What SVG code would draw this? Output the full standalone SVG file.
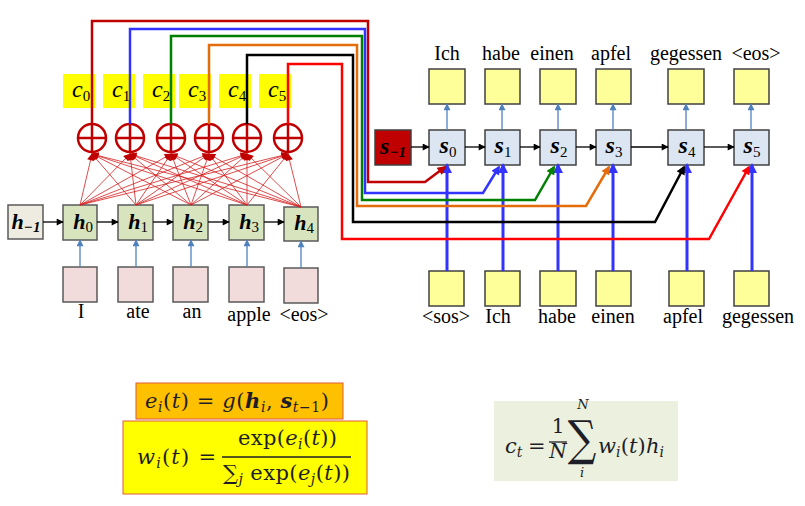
<svg xmlns="http://www.w3.org/2000/svg" width="805" height="506" viewBox="0 0 805 506">
<style>
.lbl{font-family:"Liberation Serif",serif;font-size:20px;fill:#000}
.m{font-family:"DejaVu Serif","Liberation Serif",serif;font-style:italic;fill:#1e1e28}
.up{font-style:normal}
.b{font-weight:bold}
.sub{font-size:14px}
.hbox{fill:#d7e4bd;stroke:#595959;stroke-width:1.5}
.pbox{fill:#f2dcdb;stroke:#595959;stroke-width:1.5}
.sbox{fill:#dce6f2;stroke:#404040;stroke-width:1.5}
.ybox{fill:#ffff99;stroke:#404040;stroke-width:1.5}
.cbox{fill:#ffff00}
.cl{font-family:"Liberation Serif",serif;font-style:italic;font-size:24px;fill:#000}
.cl tspan{font-style:normal;font-size:15px}
.nl{font-family:"Liberation Serif",serif;font-style:italic;font-weight:bold;fill:#000}
.nl tspan{font-size:15px}
.op circle,.op line{fill:none;stroke:#c00000;stroke-width:2.5}
.fan line{stroke:#d42020;stroke-width:0.8;marker-end:url(#mfan)}
.blk{stroke:#000;stroke-width:1.3;marker-end:url(#mblk)}
.lb{stroke:#4f81bd;stroke-width:1.3;marker-end:url(#mlb)}
.tb{stroke:#3333ff;stroke-width:3;marker-end:url(#mtb)}
.att{fill:none;stroke-width:2.5;stroke-linejoin:miter}
</style>
<defs>
<marker id="mblk" viewBox="0 0 10 10" refX="9" refY="5" markerWidth="8" markerHeight="7" markerUnits="userSpaceOnUse" orient="auto"><path d="M0,0 L10,5 L0,10 z" fill="#000"/></marker>
<marker id="mlb" viewBox="0 0 10 10" refX="9" refY="5" markerWidth="8" markerHeight="7" markerUnits="userSpaceOnUse" orient="auto"><path d="M0,0 L10,5 L0,10 z" fill="#4f81bd"/></marker>
<marker id="mtb" viewBox="0 0 10 10" refX="8" refY="5" markerWidth="10" markerHeight="10" markerUnits="userSpaceOnUse" orient="auto"><path d="M0,0 L10,5 L0,10 z" fill="#3333ff"/></marker>
<marker id="mfan" viewBox="0 0 10 10" refX="9" refY="5" markerWidth="8" markerHeight="7" markerUnits="userSpaceOnUse" orient="auto"><path d="M0,0 L10,5 L0,10 z" fill="#c00000"/></marker>
<marker id="mdr" viewBox="0 0 10 10" refX="8" refY="5" markerWidth="11" markerHeight="9" markerUnits="userSpaceOnUse" orient="auto"><path d="M0,0 L10,5 L0,10 z" fill="#c00000"/></marker>
<marker id="mbl" viewBox="0 0 10 10" refX="8" refY="5" markerWidth="11" markerHeight="9" markerUnits="userSpaceOnUse" orient="auto"><path d="M0,0 L10,5 L0,10 z" fill="#3333ff"/></marker>
<marker id="mgr" viewBox="0 0 10 10" refX="8" refY="5" markerWidth="11" markerHeight="9" markerUnits="userSpaceOnUse" orient="auto"><path d="M0,0 L10,5 L0,10 z" fill="#008000"/></marker>
<marker id="mor" viewBox="0 0 10 10" refX="8" refY="5" markerWidth="11" markerHeight="9" markerUnits="userSpaceOnUse" orient="auto"><path d="M0,0 L10,5 L0,10 z" fill="#e46c0a"/></marker>
<marker id="mbk" viewBox="0 0 10 10" refX="8" refY="5" markerWidth="11" markerHeight="9" markerUnits="userSpaceOnUse" orient="auto"><path d="M0,0 L10,5 L0,10 z" fill="#000"/></marker>
<marker id="mrd" viewBox="0 0 10 10" refX="8" refY="5" markerWidth="11" markerHeight="9" markerUnits="userSpaceOnUse" orient="auto"><path d="M0,0 L10,5 L0,10 z" fill="#ff0000"/></marker>
</defs>

<!-- context labels c_i -->
<g id="c0"><rect class="cbox" x="63" y="74" width="32" height="34"/><text class="cl" x="72" y="97">c<tspan dy="4">0</tspan></text></g>
<g id="c1"><rect class="cbox" x="103" y="74" width="32" height="34"/><text class="cl" x="112" y="97">c<tspan dy="4">1</tspan></text></g>
<g id="c2"><rect class="cbox" x="143" y="74" width="32" height="34"/><text class="cl" x="152" y="97">c<tspan dy="4">2</tspan></text></g>
<g id="c3"><rect class="cbox" x="179" y="74" width="32" height="34"/><text class="cl" x="188" y="97">c<tspan dy="4">3</tspan></text></g>
<g id="c4"><rect class="cbox" x="219" y="74" width="32" height="34"/><text class="cl" x="228" y="97">c<tspan dy="4">4</tspan></text></g>
<g id="c5"><rect class="cbox" x="259" y="74" width="32" height="34"/><text class="cl" x="268" y="97">c<tspan dy="4">5</tspan></text></g>

<!-- sum nodes -->
<g id="sum0" class="op"><circle cx="92" cy="138" r="14"/><line x1="78" y1="138" x2="106" y2="138"/><line x1="92" y1="124" x2="92" y2="152"/></g>
<g id="sum1" class="op"><circle cx="130" cy="138" r="14"/><line x1="116" y1="138" x2="144" y2="138"/><line x1="130" y1="124" x2="130" y2="152"/></g>
<g id="sum2" class="op"><circle cx="171" cy="138" r="14"/><line x1="157" y1="138" x2="185" y2="138"/><line x1="171" y1="124" x2="171" y2="152"/></g>
<g id="sum3" class="op"><circle cx="209" cy="138" r="14"/><line x1="195" y1="138" x2="223" y2="138"/><line x1="209" y1="124" x2="209" y2="152"/></g>
<g id="sum4" class="op"><circle cx="247" cy="138" r="14"/><line x1="233" y1="138" x2="261" y2="138"/><line x1="247" y1="124" x2="247" y2="152"/></g>
<g id="sum5" class="op"><circle cx="288" cy="138" r="14"/><line x1="274" y1="138" x2="302" y2="138"/><line x1="288" y1="124" x2="288" y2="152"/></g>

<!-- encoder -->
<g id="hm1"><rect x="8" y="205" width="35" height="34" fill="#eeece1" stroke="#595959" stroke-width="1.5"/><text class="nl" x="26" y="229" font-size="22" text-anchor="middle">h<tspan dy="3">−1</tspan></text></g>
<g id="h0"><rect class="hbox" x="63" y="205" width="34" height="35"/><text class="nl" x="83" y="229" font-size="22" text-anchor="middle">h<tspan font-style="normal" font-weight="normal" dy="3">0</tspan></text></g>
<g id="h1"><rect class="hbox" x="118" y="205" width="35" height="35"/><text class="nl" x="138" y="229" font-size="22" text-anchor="middle">h<tspan font-style="normal" font-weight="normal" dy="3">1</tspan></text></g>
<g id="h2"><rect class="hbox" x="173" y="205" width="35" height="35"/><text class="nl" x="193" y="229" font-size="22" text-anchor="middle">h<tspan font-style="normal" font-weight="normal" dy="3">2</tspan></text></g>
<g id="h3"><rect class="hbox" x="229" y="205" width="35" height="35"/><text class="nl" x="249" y="229" font-size="22" text-anchor="middle">h<tspan font-style="normal" font-weight="normal" dy="3">3</tspan></text></g>
<g id="h4"><rect class="hbox" x="284" y="207" width="34" height="34"/><text class="nl" x="304" y="230" font-size="22" text-anchor="middle">h<tspan font-style="normal" font-weight="normal" dy="3">4</tspan></text></g>

<g id="x0"><rect class="pbox" x="63" y="267" width="34" height="35"/><text class="lbl" x="81" y="318" text-anchor="middle">I</text></g>
<g id="x1"><rect class="pbox" x="118" y="267" width="35" height="35"/><text class="lbl" x="138" y="318" text-anchor="middle">ate</text></g>
<g id="x2"><rect class="pbox" x="173" y="267" width="35" height="35"/><text class="lbl" x="192" y="318" text-anchor="middle">an</text></g>
<g id="x3"><rect class="pbox" x="229" y="267" width="35" height="35"/><text class="lbl" x="249" y="321" text-anchor="middle">apple</text></g>
<g id="x4"><rect class="pbox" x="284" y="268" width="34" height="35"/><text class="lbl" x="304" y="321" text-anchor="middle">&lt;eos&gt;</text></g>

<!-- decoder -->
<g id="sm1"><rect x="375" y="130" width="36" height="35" fill="#c00000" stroke="#404040" stroke-width="1.5"/><text class="nl" x="393" y="154" font-size="24" text-anchor="middle">s<tspan dy="3">−1</tspan></text></g>
<g id="s0"><rect class="sbox" x="429" y="130" width="36" height="35"/><text class="nl" x="448" y="153" font-size="24" text-anchor="middle">s<tspan font-style="normal" font-weight="normal" dy="4">0</tspan></text></g>
<g id="s1"><rect class="sbox" x="485" y="130" width="35" height="35"/><text class="nl" x="503" y="153" font-size="24" text-anchor="middle">s<tspan font-style="normal" font-weight="normal" dy="4">1</tspan></text></g>
<g id="s2"><rect class="sbox" x="540" y="130" width="36" height="35"/><text class="nl" x="559" y="153" font-size="24" text-anchor="middle">s<tspan font-style="normal" font-weight="normal" dy="4">2</tspan></text></g>
<g id="s3"><rect class="sbox" x="596" y="130" width="35" height="35"/><text class="nl" x="614" y="153" font-size="24" text-anchor="middle">s<tspan font-style="normal" font-weight="normal" dy="4">3</tspan></text></g>
<g id="s4"><rect class="sbox" x="668" y="130" width="36" height="35"/><text class="nl" x="687" y="153" font-size="24" text-anchor="middle">s<tspan font-style="normal" font-weight="normal" dy="4">4</tspan></text></g>
<g id="s5"><rect class="sbox" x="734" y="130" width="35" height="35"/><text class="nl" x="752" y="153" font-size="24" text-anchor="middle">s<tspan font-style="normal" font-weight="normal" dy="4">5</tspan></text></g>

<g id="y0"><rect class="ybox" x="429" y="69" width="36" height="35"/><text class="lbl" x="447" y="60" text-anchor="middle">Ich</text></g>
<g id="y1"><rect class="ybox" x="485" y="69" width="35" height="35"/><text class="lbl" x="501" y="60" text-anchor="middle">habe</text></g>
<g id="y2"><rect class="ybox" x="540" y="69" width="36" height="35"/><text class="lbl" x="552" y="60" text-anchor="middle">einen</text></g>
<g id="y3"><rect class="ybox" x="596" y="69" width="35" height="35"/><text class="lbl" x="611" y="60" text-anchor="middle">apfel</text></g>
<g id="y4"><rect class="ybox" x="668" y="69" width="36" height="35"/><text class="lbl" x="686" y="60" text-anchor="middle">gegessen</text></g>
<g id="y5"><rect class="ybox" x="734" y="69" width="35" height="35"/><text class="lbl" x="756" y="60" text-anchor="middle">&lt;eos&gt;</text></g>

<g id="d0"><rect class="ybox" x="429" y="271" width="35" height="35"/><text class="lbl" x="446" y="323" text-anchor="middle">&lt;sos&gt;</text></g>
<g id="d1"><rect class="ybox" x="485" y="271" width="35" height="35"/><text class="lbl" x="498" y="323" text-anchor="middle">Ich</text></g>
<g id="d2"><rect class="ybox" x="540" y="271" width="36" height="35"/><text class="lbl" x="557" y="323" text-anchor="middle">habe</text></g>
<g id="d3"><rect class="ybox" x="596" y="271" width="35" height="35"/><text class="lbl" x="613" y="323" text-anchor="middle">einen</text></g>
<g id="d4"><rect class="ybox" x="669" y="271" width="35" height="35"/><text class="lbl" x="683" y="323" text-anchor="middle">apfel</text></g>
<g id="d5"><rect class="ybox" x="734" y="271" width="35" height="35"/><text class="lbl" x="758" y="323" text-anchor="middle">gegessen</text></g>

<!-- connectors -->
<g id="connectors">
<g class="fan">
<line x1="80" y1="205" x2="92" y2="154"/><line x1="80" y1="205" x2="130" y2="154"/><line x1="80" y1="205" x2="171" y2="154"/><line x1="80" y1="205" x2="209" y2="154"/><line x1="80" y1="205" x2="247" y2="154"/><line x1="80" y1="205" x2="288" y2="154"/>
<line x1="136" y1="205" x2="92" y2="154"/><line x1="136" y1="205" x2="130" y2="154"/><line x1="136" y1="205" x2="171" y2="154"/><line x1="136" y1="205" x2="209" y2="154"/><line x1="136" y1="205" x2="247" y2="154"/><line x1="136" y1="205" x2="288" y2="154"/>
<line x1="191" y1="205" x2="92" y2="154"/><line x1="191" y1="205" x2="130" y2="154"/><line x1="191" y1="205" x2="171" y2="154"/><line x1="191" y1="205" x2="209" y2="154"/><line x1="191" y1="205" x2="247" y2="154"/><line x1="191" y1="205" x2="288" y2="154"/>
<line x1="247" y1="205" x2="92" y2="154"/><line x1="247" y1="205" x2="130" y2="154"/><line x1="247" y1="205" x2="171" y2="154"/><line x1="247" y1="205" x2="209" y2="154"/><line x1="247" y1="205" x2="247" y2="154"/><line x1="247" y1="205" x2="288" y2="154"/>
<line x1="301" y1="207" x2="92" y2="154"/><line x1="301" y1="207" x2="130" y2="154"/><line x1="301" y1="207" x2="171" y2="154"/><line x1="301" y1="207" x2="209" y2="154"/><line x1="301" y1="207" x2="247" y2="154"/><line x1="301" y1="207" x2="288" y2="154"/>
</g>
<line class="blk" x1="43" y1="222" x2="63" y2="222"/>
<line class="blk" x1="97" y1="222" x2="118" y2="222"/>
<line class="blk" x1="153" y1="222" x2="173" y2="222"/>
<line class="blk" x1="208" y1="222" x2="229" y2="222"/>
<line class="blk" x1="264" y1="222" x2="284" y2="222"/>
<line class="lb" x1="80" y1="267" x2="80" y2="240"/>
<line class="lb" x1="136" y1="267" x2="136" y2="240"/>
<line class="lb" x1="191" y1="267" x2="191" y2="240"/>
<line class="lb" x1="247" y1="267" x2="247" y2="240"/>
<line class="lb" x1="301" y1="268" x2="301" y2="241"/>

<line class="blk" x1="411" y1="147" x2="429" y2="147"/>
<line class="blk" x1="465" y1="147" x2="485" y2="147"/>
<line class="blk" x1="520" y1="147" x2="540" y2="147"/>
<line class="blk" x1="576" y1="147" x2="596" y2="147"/>
<line class="blk" x1="631" y1="147" x2="668" y2="147"/>
<line class="blk" x1="704" y1="147" x2="734" y2="147"/>
<line class="lb" x1="447" y1="130" x2="447" y2="104"/>
<line class="lb" x1="502" y1="130" x2="502" y2="104"/>
<line class="lb" x1="558" y1="130" x2="558" y2="104"/>
<line class="lb" x1="613" y1="130" x2="613" y2="104"/>
<line class="lb" x1="686" y1="130" x2="686" y2="104"/>
<line class="lb" x1="751" y1="130" x2="751" y2="104"/>

<line class="tb" x1="447" y1="271" x2="447" y2="165"/>
<line class="tb" x1="503" y1="271" x2="503" y2="165"/>
<line class="tb" x1="558" y1="271" x2="558" y2="165"/>
<line class="tb" x1="613" y1="271" x2="613" y2="165"/>
<line class="tb" x1="687" y1="271" x2="687" y2="165"/>
<line class="tb" x1="752" y1="271" x2="752" y2="165"/>

<path class="att" stroke="#c00000" marker-end="url(#mdr)" d="M92,124 V21 H368 V182 H425 L445,167"/>
<path class="att" stroke="#3333ff" marker-end="url(#mbl)" d="M130,124 V29 H365 V193 H483 L499,167"/>
<path class="att" stroke="#008000" marker-end="url(#mgr)" d="M171,124 V36 H362 V200 H535 L554,167"/>
<path class="att" stroke="#e46c0a" marker-end="url(#mor)" d="M209,124 V45 H357 V206 H586 L609,167"/>
<path class="att" stroke="#000000" marker-end="url(#mbk)" d="M247,124 V55 H353 V222 H655 L684,167"/>
<path class="att" stroke="#ff0000" marker-end="url(#mrd)" d="M288,124 V64 H342 V239 H709 L749,167"/>
</g>

<!-- formulas -->
<g id="eq-e">
<rect x="136" y="383" width="207" height="36" fill="#ffc000" stroke="#e05a3a" stroke-width="1"/>
<text class="m" x="145" y="408" font-size="21" textLength="184" lengthAdjust="spacing">e<tspan class="sub" dy="4">i</tspan><tspan class="up" dy="-4">(</tspan>t<tspan class="up">) = </tspan>g<tspan class="up">(</tspan><tspan class="b">h</tspan><tspan class="sub" dy="4">i</tspan><tspan class="up" dy="-4">, </tspan><tspan class="b">s</tspan><tspan class="sub" dy="4">t<tspan class="up">−1</tspan></tspan><tspan class="up" dy="-4">)</tspan></text>
</g>
<g id="eq-w">
<rect x="123" y="421" width="244" height="73" fill="#ffff00" stroke="#e05a3a" stroke-width="1"/>
<text class="m" x="137" y="464" font-size="21" textLength="79" lengthAdjust="spacing">w<tspan class="sub" dy="4">i</tspan><tspan class="up" dy="-4">(</tspan>t<tspan class="up">) =</tspan></text>
<text class="m" x="238" y="445" font-size="21" textLength="99" lengthAdjust="spacing"><tspan class="up">exp(</tspan>e<tspan class="sub" dy="4">i</tspan><tspan class="up" dy="-4">(</tspan>t<tspan class="up">))</tspan></text>
<line x1="222" y1="457" x2="351" y2="457" stroke="#1e1e28" stroke-width="1.3"/>
<text class="m" x="223" y="480" font-size="21" textLength="127" lengthAdjust="spacing"><tspan class="up">∑</tspan><tspan class="sub" dy="4">j</tspan><tspan class="up" dy="-4"> exp(</tspan>e<tspan class="sub" dy="4">j</tspan><tspan class="up" dy="-4">(</tspan>t<tspan class="up">))</tspan></text>
</g>
<g id="eq-c">
<rect x="494" y="401" width="184" height="80" fill="#ebf1de"/>
<text class="m" x="505" y="453" font-size="21">c<tspan class="sub" dy="4">t</tspan></text>
<text class="m up" x="528" y="453" font-size="21">=</text>
<text class="m up" x="558" y="433" font-size="20" text-anchor="middle">1</text>
<line x1="549" y1="442" x2="567" y2="442" stroke="#1e1e28" stroke-width="1.3"/>
<text class="m" x="558" y="458" font-size="20" text-anchor="middle">N</text>
<text class="m" x="583" y="409" font-size="13" text-anchor="middle">N</text>
<text class="m up" transform="translate(582,455) scale(1,1.2)" x="0" y="0" font-size="40" text-anchor="middle">∑</text>
<text class="m" x="582" y="477" font-size="13" text-anchor="middle">i</text>
<text class="m" x="598" y="453" font-size="21" textLength="66" lengthAdjust="spacing">w<tspan class="sub" dy="4">i</tspan><tspan class="up" dy="-4">(</tspan>t<tspan class="up">)</tspan>h<tspan class="sub" dy="4">i</tspan></text>
</g>
</svg>
